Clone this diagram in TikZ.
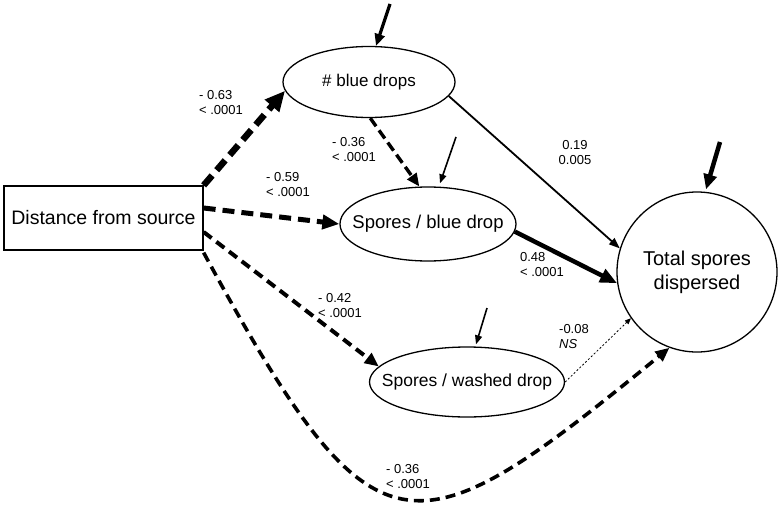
\documentclass[tikz,border=0pt]{standalone}
\usepackage{fontspec}
\setmainfont{Liberation Sans}
\usetikzlibrary{arrows.meta,shapes.geometric}
\begin{document}
\begin{tikzpicture}[x=1pt,y=-1pt,
  ell/.style={draw,ellipse,line width=1.3pt,inner sep=0pt},
  ntext/.style={inner sep=0pt,font=\fontsize{17.5}{21}\selectfont},
  lbl/.style={align=left,inner sep=0pt,font=\fontsize{13}{15}\selectfont},
  lblc/.style={align=center,inner sep=0pt,font=\fontsize{13}{15}\selectfont},
  pa/.style={line width=6.5pt,dash pattern=on 13pt off 7pt,-{Triangle[length=20pt,width=18pt]}},
  pb/.style={line width=5pt,dash pattern=on 12pt off 7pt,-{Triangle[length=17pt,width=14pt]}},
  pc/.style={line width=4pt,dash pattern=on 10pt off 6pt,-{Triangle[length=14pt,width=12pt]}},
  pd/.style={line width=3.6pt,dash pattern=on 10pt off 6pt,-{Triangle[length=14pt,width=12pt]}},
  pe/.style={line width=3.4pt,dash pattern=on 10pt off 5pt,-{Triangle[length=13pt,width=11pt]}},
  pf/.style={line width=1.8pt,-{Triangle[length=11pt,width=8pt]}},
  pg/.style={line width=4.5pt,-{Triangle[length=17pt,width=14pt]}},
  ph/.style={line width=0.8pt,dash pattern=on 2pt off 2pt,-{Triangle[length=6pt,width=5pt]}},
  errbig/.style={line width=4.5pt,-{Triangle[length=15pt,width=13pt]}},
  errmid/.style={line width=3.2pt,-{Triangle[length=12pt,width=10pt]}},
  errsmall/.style={line width=1.6pt,-{Triangle[length=9pt,width=7pt]}}
]
\useasboundingbox (0,0) rectangle (782,514);
\fill[white] (0,0) rectangle (782,514);

% nodes
\node[draw,line width=1.3pt,minimum width=199pt,minimum height=64pt,inner sep=0pt,
      font=\fontsize{19.5}{23}\selectfont] (dist) at (103.5,218) {Distance from source};
\node[ell,minimum width=172pt,minimum height=71pt] (blue) at (369,82) {};
\node[ntext,font=\fontsize{17}{20}\selectfont] (bluet) at (blue) {\# blue drops};
\node[ell,minimum width=176pt,minimum height=74pt] (sb) at (428,224) {};
\node[ntext,font=\fontsize{18.5}{21}\selectfont] (sbt) at (sb) {Spores / blue drop};
\node[ell,minimum width=195pt,minimum height=70pt] (wd) at (467,382) {};
\node[ntext] (wdt) at (wd) {Spores / washed drop};
\node[draw,circle,line width=1.3pt,minimum size=160pt,inner sep=0pt,align=center,
      font=\fontsize{20}{24}\selectfont] (tot) at (697,272) {Total spores\\dispersed};

% paths
\draw[pa] (dist.north east) -- (blue.186);
\draw[pb] ([yshift=10pt]dist.east) -- (sb.west);
\draw[pc] ([yshift=-14pt]dist.east) -- (wd.170);
\draw[pd] ([yshift=-2pt]dist.south east) .. controls (375,568) and (410,560) .. (tot.250);
\draw[pe] (blue.272) -- (sb.103);
\draw[pf] (blue.-10) -- (tot.163);
\draw[pg] (sb.-5) -- (tot.188);
\draw[ph] (wd.0) -- (tot.215);

% error arrows
\coordinate (e1) at (390,4);
\coordinate (e2) at (456,137);
\coordinate (e3) at (487,308);
\coordinate (e4) at (720,142);
\draw[errmid] (e1) -- (blue.79);
\draw[errsmall] (e2) -- ([xshift=12pt,yshift=3pt]sb.north);
\draw[errsmall] (e3) -- ([xshift=9pt,yshift=2pt]wd.north);
\draw[errbig] (e4) -- ([xshift=9pt,yshift=2pt]tot.north);

% labels
\node[lbl] (l1) at (221,103) {- 0.63\\< .0001};
\node[lbl] (l2) at (354,150) {- 0.36\\< .0001};
\node[lbl] (l3) at (288,185) {- 0.59\\< .0001};
\node[lblc] (l4) at (575,153) {0.19\\0.005};
\node[lbl] (l5) at (542,265) {0.48\\< .0001};
\node[lbl] (l6) at (340,306) {- 0.42\\< .0001};
\node[lbl] (l7) at (574,337) {-0.08\\\textit{NS}};
\node[lbl] (l8) at (408,477) {- 0.36\\< .0001};
\end{tikzpicture}
\end{document}
